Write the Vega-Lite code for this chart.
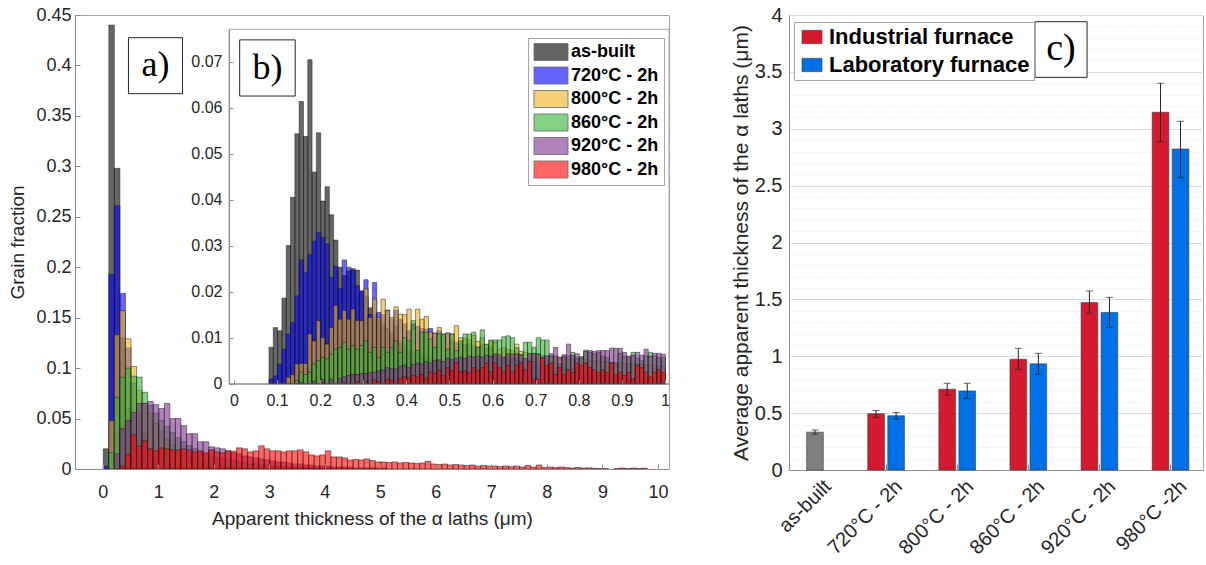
{
 "$schema": "https://vega.github.io/schema/vega-lite/v6.json",
 "background": "white",
 "padding": {"left": 8, "top": 4, "right": 0, "bottom": 0},
 "bounds": "flush",
 "spacing": 120,
 "config": {
  "view": {"stroke": "#a6a6a6"},
  "axis": {"labelFont": "Liberation Sans", "titleFont": "Liberation Sans", "labelColor": "#262626", "titleColor": "#262626", "domainColor": "#8c8c8c", "tickColor": "#8c8c8c", "grid": false, "titleFontWeight": "normal", "labelFlush": false, "labelOverlap": false}
 },
 "datasets": {
  "histA": [
   {"x":0,"a":0.02,"b":0.003},
   {"x":0.1,"a":0.44,"b":0.193,"c":0.048,"d":0.016},
   {"x":0.2,"a":0.298,"b":0.261,"c":0.133,"d":0.071,"e":0.015},
   {"x":0.3,"a":0.13,"b":0.174,"c":0.157,"d":0.091,"e":0.04,"f":0.003},
   {"x":0.4,"a":0.06,"b":0.12,"c":0.129,"d":0.1,"e":0.048,"f":0.0144},
   {"x":0.5,"a":0.025,"b":0.085,"c":0.1016,"d":0.092,"e":0.056,"f":0.034},
   {"x":0.6,"a":0.012,"b":0.055,"c":0.078,"d":0.091,"e":0.065,"f":0.0227},
   {"x":0.7,"a":0.006,"b":0.035,"c":0.065,"d":0.076,"e":0.065,"f":0.028},
   {"x":0.8,"a":0.003,"b":0.02,"c":0.055,"d":0.063,"e":0.067,"f":0.02},
   {"x":0.9,"a":0.002,"b":0.012,"c":0.045,"d":0.055,"e":0.064,"f":0.018},
   {"x":1,"b":0.007,"c":0.037,"d":0.048,"e":0.06,"f":0.021},
   {"x":1.1,"b":0.004,"c":0.03,"d":0.042,"e":0.065,"f":0.02},
   {"x":1.2,"b":0.002,"c":0.024,"d":0.036,"e":0.05,"f":0.019},
   {"x":1.3,"c":0.019,"d":0.031,"e":0.05,"f":0.019},
   {"x":1.4,"c":0.015,"d":0.027,"e":0.043,"f":0.02},
   {"x":1.5,"c":0.012,"d":0.023,"e":0.035,"f":0.019},
   {"x":1.6,"c":0.01,"d":0.02,"e":0.035,"f":0.017},
   {"x":1.7,"c":0.008,"d":0.017,"e":0.027,"f":0.018},
   {"x":1.8,"c":0.006,"d":0.015,"e":0.027,"f":0.016},
   {"x":1.9,"c":0.005,"d":0.013,"e":0.022,"f":0.019},
   {"x":2,"c":0.004,"d":0.011,"e":0.021,"f":0.017},
   {"x":2.1,"c":0.003,"d":0.01,"e":0.02,"f":0.016},
   {"x":2.2,"c":0.002,"d":0.009,"e":0.018,"f":0.018},
   {"x":2.3,"c":0.002,"d":0.008,"e":0.016,"f":0.0177},
   {"x":2.4,"c":0.001,"d":0.007,"e":0.015,"f":0.021},
   {"x":2.5,"d":0.006,"e":0.013,"f":0.02},
   {"x":2.6,"d":0.005,"e":0.012,"f":0.017},
   {"x":2.7,"d":0.005,"e":0.011,"f":0.018},
   {"x":2.8,"d":0.004,"e":0.01,"f":0.023},
   {"x":2.9,"d":0.004,"e":0.009,"f":0.02},
   {"x":3,"d":0.003,"e":0.008,"f":0.018},
   {"x":3.1,"d":0.003,"e":0.007,"f":0.018},
   {"x":3.2,"d":0.003,"e":0.007,"f":0.017},
   {"x":3.3,"d":0.002,"e":0.006,"f":0.018},
   {"x":3.4,"d":0.002,"e":0.005,"f":0.018},
   {"x":3.5,"d":0.002,"e":0.005,"f":0.019},
   {"x":3.6,"d":0.002,"e":0.004,"f":0.017},
   {"x":3.7,"d":0.001,"e":0.004,"f":0.014},
   {"x":3.8,"d":0.001,"e":0.003,"f":0.013},
   {"x":3.9,"d":0.001,"e":0.003,"f":0.014},
   {"x":4,"d":0.001,"e":0.003,"f":0.018},
   {"x":4.1,"e":0.002,"f":0.012},
   {"x":4.2,"e":0.002,"f":0.012},
   {"x":4.3,"e":0.002,"f":0.011},
   {"x":4.4,"e":0.002,"f":0.009},
   {"x":4.5,"e":0.001,"f":0.0095},
   {"x":4.6,"e":0.001,"f":0.009},
   {"x":4.7,"e":0.001,"f":0.01},
   {"x":4.8,"e":0.001,"f":0.0085},
   {"x":4.9,"e":0.001,"f":0.007},
   {"x":5,"e":0.001,"f":0.007},
   {"x":5.1,"f":0.0065},{"x":5.2,"f":0.007},{"x":5.3,"f":0.006},{"x":5.4,"f":0.0065},{"x":5.5,"f":0.006},
   {"x":5.6,"f":0.0055},{"x":5.7,"f":0.006},{"x":5.8,"f":0.0077},{"x":5.9,"f":0.005},{"x":6,"f":0.0045},
   {"x":6.1,"f":0.005},{"x":6.2,"f":0.004},{"x":6.3,"f":0.0045},{"x":6.4,"f":0.004},{"x":6.5,"f":0.0035},
   {"x":6.6,"f":0.004},{"x":6.7,"f":0.003},{"x":6.8,"f":0.0035},{"x":6.9,"f":0.003},{"x":7,"f":0.003},
   {"x":7.1,"f":0.0025},{"x":7.2,"f":0.003},{"x":7.3,"f":0.0025},{"x":7.4,"f":0.003},{"x":7.5,"f":0.002},
   {"x":7.6,"f":0.0035},{"x":7.7,"f":0.002},{"x":7.8,"f":0.004},{"x":7.9,"f":0.0015},{"x":8,"f":0.002},
   {"x":8.1,"f":0.0015},{"x":8.2,"f":0.002},{"x":8.3,"f":0.0015},{"x":8.4,"f":0.001},{"x":8.5,"f":0.0015},
   {"x":8.6,"f":0.001},{"x":8.7,"f":0.0012},{"x":8.8,"f":0.0008},{"x":8.9,"f":0.0005},{"x":9,"f":0.0005},
   {"x":9.2,"f":0.0005},{"x":9.3,"f":0.001},{"x":9.4,"f":0.0005},{"x":9.5,"f":0.001},{"x":9.6,"f":0.0005},{"x":9.7,"f":0.0008}
  ],
  "histB": [
   {"x":0.08,"a":0.0079,"b":0.001},
   {"x":0.09,"a":0.0122,"b":0.0017},
   {"x":0.10,"a":0.0115,"b":0.0043},
   {"x":0.11,"a":0.0186,"b":0.0075},
   {"x":0.12,"a":0.030,"b":0.0108,"c":0.0014},
   {"x":0.13,"a":0.0405,"b":0.0133,"c":0.002},
   {"x":0.14,"a":0.0543,"b":0.0191,"c":0.0043,"d":0.0007},
   {"x":0.15,"a":0.0613,"b":0.0269,"c":0.0044,"d":0.0025,"e":0.0003},
   {"x":0.16,"a":0.0537,"b":0.0242,"c":0.0044,"d":0.002},
   {"x":0.17,"a":0.0704,"b":0.028,"c":0.0108,"d":0.0025},
   {"x":0.18,"a":0.046,"b":0.031,"c":0.0093,"d":0.0043,"e":0.0005},
   {"x":0.19,"a":0.0545,"b":0.0329,"c":0.0137,"d":0.005},
   {"x":0.20,"a":0.0397,"b":0.0318,"c":0.010,"d":0.0057,"e":0.001,"f":0.0003},
   {"x":0.21,"a":0.0428,"b":0.0304,"c":0.0086,"d":0.0054},
   {"x":0.22,"a":0.0367,"b":0.0231,"c":0.0122,"d":0.0064,"e":0.001},
   {"x":0.23,"a":0.0312,"b":0.0255,"c":0.017,"d":0.0075},
   {"x":0.24,"a":0.0253,"b":0.0207,"c":0.014,"d":0.0079,"e":0.0012},
   {"x":0.25,"a":0.0235,"b":0.0269,"c":0.0159,"d":0.009,"e":0.0015,"f":0.0003},
   {"x":0.26,"a":0.0245,"b":0.0253,"c":0.014,"d":0.0075,"e":0.0018},
   {"x":0.27,"a":0.025,"b":0.0246,"c":0.0162,"d":0.0083,"e":0.002},
   {"x":0.28,"a":0.0247,"b":0.0213,"c":0.0137,"d":0.0075,"e":0.002,"f":0.0005},
   {"x":0.29,"a":0.020,"b":0.0202,"c":0.0137,"d":0.0083,"e":0.0022},
   {"x":0.30,"a":0.019,"b":0.0226,"c":0.0206,"d":0.0093,"e":0.0022,"f":0.0005},
   {"x":0.31,"a":0.0165,"b":0.0151,"c":0.0144,"d":0.0068,"e":0.0024},
   {"x":0.32,"a":0.015,"b":0.022,"c":0.0184,"d":0.0079,"e":0.0025,"f":0.0008},
   {"x":0.33,"a":0.014,"b":0.0155,"c":0.0144,"d":0.0057,"e":0.0028,"f":0.0005},
   {"x":0.34,"a":0.013,"b":0.015,"c":0.0184,"d":0.0079,"e":0.003},
   {"x":0.35,"a":0.012,"b":0.016,"c":0.0159,"d":0.0068,"e":0.0035,"f":0.001},
   {"x":0.36,"a":0.011,"b":0.014,"c":0.0144,"d":0.0079,"e":0.0033,"f":0.0008},
   {"x":0.37,"a":0.0125,"b":0.016,"c":0.0167,"d":0.0093,"e":0.0032},
   {"x":0.38,"a":0.009,"b":0.014,"c":0.0151,"d":0.0068,"e":0.0038,"f":0.0012},
   {"x":0.39,"a":0.008,"b":0.013,"c":0.015,"d":0.01,"e":0.004,"f":0.0015},
   {"x":0.40,"a":0.0075,"b":0.0115,"c":0.0162,"d":0.0093,"e":0.0035,"f":0.0012},
   {"x":0.41,"a":0.007,"b":0.013,"c":0.0119,"d":0.0137,"e":0.0042,"f":0.0018},
   {"x":0.42,"a":0.0068,"b":0.0125,"c":0.0162,"d":0.0072,"e":0.0045,"f":0.0015},
   {"x":0.43,"a":0.0065,"b":0.012,"c":0.014,"d":0.0112,"e":0.0043,"f":0.002},
   {"x":0.44,"a":0.006,"b":0.0119,"c":0.0146,"d":0.0112,"e":0.0048,"f":0.0012},
   {"x":0.45,"a":0.0058,"b":0.012,"c":0.0112,"d":0.0097,"e":0.0045,"f":0.0025},
   {"x":0.46,"a":0.0055,"b":0.011,"c":0.011,"d":0.0079,"e":0.005,"f":0.0023},
   {"x":0.47,"a":0.0052,"b":0.0115,"c":0.0122,"d":0.0108,"e":0.0052,"f":0.003},
   {"x":0.48,"a":0.005,"b":0.0105,"c":0.0108,"d":0.0108,"e":0.0048,"f":0.0018},
   {"x":0.49,"a":0.0047,"b":0.011,"c":0.011,"d":0.0075,"e":0.0055,"f":0.0035},
   {"x":0.50,"a":0.0035,"b":0.0095,"c":0.0108,"d":0.0108,"e":0.0052,"f":0.0028},
   {"x":0.51,"a":0.003,"b":0.009,"c":0.0126,"d":0.0072,"e":0.0055,"f":0.0046},
   {"x":0.52,"a":0.003,"b":0.0088,"c":0.010,"d":0.0093,"e":0.0058,"f":0.0026},
   {"x":0.53,"a":0.0028,"b":0.0085,"c":0.0098,"d":0.0108,"e":0.0055,"f":0.0028},
   {"x":0.54,"a":0.0025,"b":0.0087,"c":0.0095,"d":0.0108,"e":0.006,"f":0.0024},
   {"x":0.55,"a":0.0025,"b":0.0083,"c":0.0105,"d":0.0112,"e":0.0058,"f":0.0035},
   {"x":0.56,"a":0.0022,"b":0.008,"c":0.0092,"d":0.0079,"e":0.006,"f":0.0028},
   {"x":0.57,"a":0.002,"b":0.0085,"c":0.01,"d":0.0117,"e":0.0058,"f":0.0035},
   {"x":0.58,"a":0.002,"b":0.0078,"c":0.0085,"d":0.0086,"e":0.0062,"f":0.0045},
   {"x":0.59,"a":0.0018,"b":0.0079,"c":0.0095,"d":0.0093,"e":0.006,"f":0.0025},
   {"x":0.60,"a":0.0015,"b":0.006,"c":0.009,"d":0.0095,"e":0.0065,"f":0.0045},
   {"x":0.61,"a":0.0014,"b":0.0058,"c":0.0075,"d":0.0095,"e":0.0063,"f":0.0035},
   {"x":0.62,"a":0.0013,"b":0.0056,"c":0.0078,"d":0.0102,"e":0.0058,"f":0.0025},
   {"x":0.63,"a":0.0012,"b":0.0055,"c":0.0074,"d":0.0104,"e":0.0065,"f":0.004},
   {"x":0.64,"a":0.0012,"b":0.0055,"c":0.0072,"d":0.01,"e":0.0064,"f":0.0025},
   {"x":0.65,"a":0.0011,"b":0.0054,"c":0.0086,"d":0.0078,"e":0.0065,"f":0.004},
   {"x":0.66,"a":0.001,"b":0.0052,"c":0.007,"d":0.0064,"e":0.0062,"f":0.0045},
   {"x":0.67,"a":0.001,"b":0.005,"c":0.0068,"d":0.009,"e":0.0055,"f":0.003},
   {"x":0.68,"a":0.001,"b":0.0052,"c":0.0066,"d":0.009,"e":0.0065,"f":0.0048},
   {"x":0.69,"a":0.0009,"b":0.0048,"c":0.0065,"d":0.0079,"e":0.0066,"f":0.001},
   {"x":0.70,"a":0.0008,"b":0.004,"c":0.0064,"d":0.01,"e":0.0065,"f":0.001},
   {"x":0.71,"a":0.0008,"b":0.0038,"c":0.0062,"d":0.0095,"e":0.0058,"f":0.0055},
   {"x":0.72,"a":0.0007,"b":0.0036,"c":0.006,"d":0.0095,"e":0.006,"f":0.004},
   {"x":0.73,"a":0.0007,"b":0.0035,"c":0.006,"d":0.006,"e":0.0065,"f":0.0045},
   {"x":0.74,"a":0.0007,"b":0.0036,"c":0.0058,"d":0.006,"e":0.0079,"f":0.002},
   {"x":0.75,"a":0.0006,"b":0.0033,"c":0.0056,"d":0.0043,"e":0.0058,"f":0.0035},
   {"x":0.76,"a":0.0006,"b":0.0034,"c":0.0056,"d":0.006,"e":0.0063,"f":0.002},
   {"x":0.77,"a":0.0006,"b":0.0032,"c":0.0054,"d":0.006,"e":0.0086,"f":0.003},
   {"x":0.78,"a":0.0005,"b":0.0033,"c":0.0055,"d":0.0068,"e":0.0062,"f":0.0025},
   {"x":0.79,"a":0.0005,"b":0.003,"c":0.0053,"d":0.0057,"e":0.0065,"f":0.0045},
   {"x":0.80,"a":0.0005,"b":0.0022,"c":0.0059,"d":0.0058,"e":0.0055,"f":0.004},
   {"x":0.81,"a":0.0004,"b":0.002,"c":0.0052,"d":0.0073,"e":0.007,"f":0.0045},
   {"x":0.82,"a":0.0004,"b":0.0021,"c":0.005,"d":0.0068,"e":0.0072,"f":0.0035},
   {"x":0.83,"a":0.0004,"b":0.002,"c":0.005,"d":0.0065,"e":0.007,"f":0.003},
   {"x":0.84,"a":0.0004,"b":0.0019,"c":0.0049,"d":0.0068,"e":0.0072,"f":0.0025},
   {"x":0.85,"a":0.0003,"b":0.002,"c":0.0048,"d":0.006,"e":0.0072,"f":0.003},
   {"x":0.86,"a":0.0003,"b":0.0018,"c":0.0048,"d":0.0057,"e":0.0072,"f":0.0025},
   {"x":0.87,"a":0.0003,"b":0.0019,"c":0.0046,"d":0.0045,"e":0.0077,"f":0.0045},
   {"x":0.88,"a":0.0003,"b":0.0018,"c":0.0046,"d":0.0043,"e":0.0077,"f":0.002},
   {"x":0.89,"a":0.0003,"b":0.0017,"c":0.0045,"d":0.0066,"e":0.0077,"f":0.0025},
   {"x":0.90,"a":0.0003,"b":0.0013,"c":0.0044,"d":0.006,"e":0.0068,"f":0.0018},
   {"x":0.91,"a":0.0002,"b":0.0012,"c":0.0043,"d":0.0057,"e":0.006,"f":0.0025},
   {"x":0.92,"a":0.0002,"b":0.0012,"c":0.0043,"d":0.0068,"e":0.0062,"f":0.001},
   {"x":0.93,"a":0.0002,"b":0.0011,"c":0.0042,"d":0.0056,"e":0.0068,"f":0.004},
   {"x":0.94,"a":0.0002,"b":0.0012,"c":0.0042,"d":0.005,"e":0.0062,"f":0.0035},
   {"x":0.95,"a":0.0002,"b":0.0011,"c":0.004,"d":0.006,"e":0.0075,"f":0.0025},
   {"x":0.96,"a":0.0002,"b":0.0011,"c":0.0041,"d":0.0068,"e":0.006,"f":0.0015},
   {"x":0.97,"a":0.0002,"b":0.001,"c":0.004,"d":0.006,"e":0.0066,"f":0.0025},
   {"x":0.98,"a":0.0002,"b":0.001,"c":0.0039,"d":0.0057,"e":0.0066,"f":0.003},
   {"x":0.99,"a":0.0002,"b":0.001,"c":0.0038,"d":0.0057,"e":0.0064,"f":0.0025}
  ],
  "bars": [
   {"cat":"as-built","furnace":"as-built","v":0.333,"lo":0.314,"hi":0.352},
   {"cat":"720°C - 2h","furnace":"Industrial furnace","v":0.495,"lo":0.463,"hi":0.523},
   {"cat":"720°C - 2h","furnace":"Laboratory furnace","v":0.477,"lo":0.447,"hi":0.507},
   {"cat":"800°C - 2h","furnace":"Industrial furnace","v":0.71,"lo":0.66,"hi":0.762},
   {"cat":"800°C - 2h","furnace":"Laboratory furnace","v":0.695,"lo":0.628,"hi":0.762},
   {"cat":"860°C - 2h","furnace":"Industrial furnace","v":0.974,"lo":0.885,"hi":1.07},
   {"cat":"860°C - 2h","furnace":"Laboratory furnace","v":0.933,"lo":0.842,"hi":1.026},
   {"cat":"920°C - 2h","furnace":"Industrial furnace","v":1.472,"lo":1.378,"hi":1.574},
   {"cat":"920°C - 2h","furnace":"Laboratory furnace","v":1.384,"lo":1.254,"hi":1.518},
   {"cat":"980°C -2h","furnace":"Industrial furnace","v":3.145,"lo":2.886,"hi":3.40},
   {"cat":"980°C -2h","furnace":"Laboratory furnace","v":2.822,"lo":2.57,"hi":3.066}
  ]
 },
 "resolve": {"scale": {"color": "independent"}, "legend": {"color": "independent"}},
 "hconcat": [
  {
   "width": 594, "height": 454,
   "resolve": {"scale": {"x": "independent", "y": "independent"}, "axis": {"x": "independent", "y": "independent"}},
   "layer": [
    {
     "layer": [
      {
       "data": {"name": "histA"},
       "transform": [{"fold": ["a","b","c","d","e","f"], "as": ["s","v"]}],
       "mark": {"type": "bar", "binSpacing": 0, "fillOpacity": 0.6, "stroke": "#1a1a1a", "strokeWidth": 0.6, "strokeOpacity": 0.8},
       "encoding": {
        "x": {"field": "x", "type": "quantitative", "bin": {"binned": true, "step": 0.1}, "scale": {"domain": [-0.5, 10.2], "nice": false, "zero": false},
              "axis": {"orient": "bottom", "values": [0,1,2,3,4,5,6,7,8,9,10], "format": "d", "title": "Apparent thickness of the α laths (μm)", "labelFontSize": 18, "titleFontSize": 19, "tickSize": -5, "labelPadding": 19, "titlePadding": 8, "zindex": 1}},
        "y": {"field": "v", "type": "quantitative", "stack": null, "scale": {"domain": [0, 0.45], "nice": false},
              "axis": {"orient": "left", "values": [0,0.05,0.1,0.15,0.2,0.25,0.3,0.35,0.4,0.45], "format": "~g", "title": "Grain fraction", "labelFontSize": 18, "titleFontSize": 19, "tickSize": -5, "labelPadding": 9, "titlePadding": 8, "zindex": 1}},
        "color": {"field": "s", "type": "nominal",
                  "scale": {"domain": ["a","b","c","d","e","f"], "range": ["#000000","#0000ff","#edb120","#33b233","#7e2f8e","#ff0000"]},
                  "legend": {"orient": "none", "legendX": 453, "legendY": 23, "title": null,
                             "labelExpr": "{'a':'as-built','b':'720°C - 2h','c':'800°C - 2h','d':'860°C - 2h','e':'920°C - 2h','f':'980°C - 2h'}[datum.value]",
                             "symbolType": "M-2,-1H2V1H-2Z", "symbolSize": 289, "symbolOffset": 9, "labelOffset": 11,
                             "labelFont": "Liberation Sans", "labelFontSize": 18, "labelFontWeight": "bold", "labelColor": "#000000",
                             "rowPadding": 1.5, "padding": 5, "strokeColor": "#a6a6a6", "fillColor": "white",
                             "symbolOpacity": 0.6, "symbolStrokeColor": "#000000", "symbolStrokeWidth": 0.8}}
       }
      },
      {
       "data": {"values": [{}]},
       "mark": {"type": "rect", "fill": "white", "stroke": "#262626", "strokeWidth": 1},
       "encoding": {"x": {"datum": 0.463, "type": "quantitative"}, "x2": {"datum": 1.437}, "y": {"datum": 0.4275, "type": "quantitative"}, "y2": {"datum": 0.372}}
      },
      {
       "data": {"values": [{}]},
       "mark": {"type": "text", "text": "a)", "font": "Liberation Serif", "fontSize": 36, "color": "#000000", "align": "center", "baseline": "middle"},
       "encoding": {"x": {"datum": 0.95, "type": "quantitative"}, "y": {"datum": 0.40, "type": "quantitative"}}
      }
     ]
    },
    {
     "layer": [
      {
       "data": {"values": [{}]},
       "mark": {"type": "rect", "fill": "white", "stroke": "#a6a6a6", "strokeWidth": 1},
       "encoding": {"x": {"datum": -0.0116, "type": "quantitative"}, "x2": {"datum": 1.0093}, "y": {"datum": 0, "type": "quantitative"}, "y2": {"datum": 0.077}}
      },
      {
       "data": {"name": "histB"},
       "transform": [{"fold": ["a","b","c","d","e","f"], "as": ["s","v"]}],
       "mark": {"type": "bar", "binSpacing": 0, "fillOpacity": 0.6, "stroke": "#1a1a1a", "strokeWidth": 0.6, "strokeOpacity": 0.8},
       "encoding": {
        "x": {"field": "x", "type": "quantitative", "bin": {"binned": true, "step": 0.01}, "scale": {"domain": [-0.0116, 1.0093], "range": [154, 594], "nice": false, "zero": false},
              "axis": {"orient": "bottom", "offset": -85.3, "values": [0,0.1,0.2,0.3,0.4,0.5,0.6,0.7,0.8,0.9,1], "format": "~g", "title": null, "labelFontSize": 16, "tickSize": -4, "labelPadding": 13, "zindex": 2}},
        "y": {"field": "v", "type": "quantitative", "stack": null, "scale": {"domain": [0, 0.077], "range": [368.7, 14.3], "nice": false},
              "axis": {"orient": "left", "offset": -154, "values": [0,0.01,0.02,0.03,0.04,0.05,0.06,0.07], "format": "~g", "title": null, "labelFontSize": 16, "tickSize": -4, "labelPadding": 11, "zindex": 2}},
        "color": {"field": "s", "type": "nominal",
                  "scale": {"domain": ["a","b","c","d","e","f"], "range": ["#000000","#0000ff","#edb120","#33b233","#7e2f8e","#ff0000"]},
                  "legend": {"orient": "none", "legendX": 453, "legendY": 23, "title": null,
                             "labelExpr": "{'a':'as-built','b':'720°C - 2h','c':'800°C - 2h','d':'860°C - 2h','e':'920°C - 2h','f':'980°C - 2h'}[datum.value]",
                             "symbolType": "M-2,-1H2V1H-2Z", "symbolSize": 289, "symbolOffset": 9, "labelOffset": 11,
                             "labelFont": "Liberation Sans", "labelFontSize": 18, "labelFontWeight": "bold", "labelColor": "#000000",
                             "rowPadding": 1.5, "padding": 5, "strokeColor": "#a6a6a6", "fillColor": "white",
                             "symbolOpacity": 0.6, "symbolStrokeColor": "#000000", "symbolStrokeWidth": 0.8}}
       }
      },
      {
       "data": {"values": [{}]},
       "mark": {"type": "rect", "fill": "white", "stroke": "#262626", "strokeWidth": 1},
       "encoding": {"x": {"datum": 0.0132, "type": "quantitative"}, "x2": {"datum": 0.142}, "y": {"datum": 0.0747, "type": "quantitative"}, "y2": {"datum": 0.0625}}
      },
      {
       "data": {"values": [{}]},
       "mark": {"type": "text", "text": "b)", "font": "Liberation Serif", "fontSize": 36, "color": "#000000", "align": "center", "baseline": "middle"},
       "encoding": {"x": {"datum": 0.0776, "type": "quantitative"}, "y": {"datum": 0.0686, "type": "quantitative"}}
      }
     ]
    }
   ]
  },
  {
   "width": 414, "height": 455,
   "resolve": {"scale": {"x": "independent"}, "axis": {"x": "independent", "y": "independent"}},
   "layer": [
    {
     "data": {"name": "bars"},
     "layer": [
      {
       "mark": {"type": "bar", "width": 16.7, "stroke": "#3c3c3c", "strokeWidth": 0.6},
       "encoding": {
        "x": {"field": "cat", "type": "nominal", "scale": {"domain": ["as-built","720°C - 2h","800°C - 2h","860°C - 2h","920°C - 2h","980°C -2h"], "paddingInner": 0.578, "paddingOuter": 0.2, "align": 0.386},
              "axis": {"title": null, "labelAngle": -45, "labelFontSize": 20, "ticks": true, "tickSize": -6, "labelPadding": 12, "labelOffset": 6}},
        "xOffset": {"field": "furnace", "type": "nominal", "scale": {"domain": ["Industrial furnace","as-built","Laboratory furnace"], "paddingInner": 0, "paddingOuter": 0}},
        "y": {"field": "v", "type": "quantitative", "scale": {"domain": [0, 4], "nice": false}, "title": "Average apparent thickness of the α laths (μm)",
              "axis": {"orient": "left", "values": [0,0.5,1,1.5,2,2.5,3,3.5,4], "format": "~g",
                       "grid": true, "gridColor": "#dcdcdc",
                       "ticks": false, "titleFontSize": 21, "labelFontSize": 20, "labelPadding": 7, "titlePadding": 3}},
        "color": {"field": "furnace", "type": "nominal", "scale": {"domain": ["Industrial furnace","Laboratory furnace","as-built"], "range": ["#d51a30","#0070e6","#808080"]},
                  "legend": {"values": ["Industrial furnace","Laboratory furnace"], "orient": "none", "legendX": 5, "legendY": 7, "title": null,
                             "symbolType": "M-1.5,-1H1.5V1H-1.5Z", "symbolSize": 178, "symbolOffset": 3, "labelOffset": 6,
                             "labelFont": "Liberation Sans", "labelFontSize": 22, "labelFontWeight": "bold", "labelColor": "#000000", "labelLimit": 400,
                             "rowPadding": 6, "padding": 4, "strokeColor": "#a6a6a6", "fillColor": "white",
                             "symbolStrokeColor": "#3c3c3c", "symbolStrokeWidth": 0.6}}
       }
      },
      {
       "mark": {"type": "rule", "color": "#262626", "strokeWidth": 1},
       "encoding": {"x": {"field": "cat", "type": "nominal"}, "xOffset": {"field": "furnace", "type": "nominal"},
                    "y": {"field": "lo", "type": "quantitative", "title": "Average apparent thickness of the α laths (μm)"}, "y2": {"field": "hi"}}
      },
      {
       "mark": {"type": "tick", "color": "#262626", "thickness": 1, "size": 7, "orient": "horizontal"},
       "encoding": {"x": {"field": "cat", "type": "nominal"}, "xOffset": {"field": "furnace", "type": "nominal"},
                    "y": {"field": "hi", "type": "quantitative", "title": "Average apparent thickness of the α laths (μm)"}}
      },
      {
       "mark": {"type": "tick", "color": "#262626", "thickness": 1, "size": 7, "orient": "horizontal"},
       "encoding": {"x": {"field": "cat", "type": "nominal"}, "xOffset": {"field": "furnace", "type": "nominal"},
                    "y": {"field": "lo", "type": "quantitative", "title": "Average apparent thickness of the α laths (μm)"}}
      }
     ]
    },
    {
     "data": {"values": [{}]},
     "layer": [
      {
       "mark": {"type": "rect", "fill": "white", "stroke": "#262626", "strokeWidth": 1},
       "encoding": {"x": {"datum": 0.594, "type": "quantitative", "scale": {"domain": [0, 1]}, "axis": null}, "x2": {"datum": 0.72},
                    "y": {"datum": 3.941, "type": "quantitative",
                          "axis": {"orient": "left", "values": [0.1,0.2,0.3,0.4,0.6,0.7,0.8,0.9,1.1,1.2,1.3,1.4,1.6,1.7,1.8,1.9,2.1,2.2,2.3,2.4,2.6,2.7,2.8,2.9,3.1,3.2,3.3,3.4,3.6,3.7,3.8,3.9],
                                   "grid": true, "gridColor": "#e2e2e2", "gridDash": [1, 2], "labels": false, "ticks": false, "domain": false, "title": null}},
                    "y2": {"datum": 3.452}}
      },
      {
       "mark": {"type": "text", "text": "c)", "font": "Liberation Serif", "fontSize": 38, "color": "#000000", "align": "center", "baseline": "middle"},
       "encoding": {"x": {"datum": 0.657, "type": "quantitative", "axis": null},
                    "y": {"datum": 3.70, "type": "quantitative",
                          "axis": {"orient": "left", "values": [0.1,0.2,0.3,0.4,0.6,0.7,0.8,0.9,1.1,1.2,1.3,1.4,1.6,1.7,1.8,1.9,2.1,2.2,2.3,2.4,2.6,2.7,2.8,2.9,3.1,3.2,3.3,3.4,3.6,3.7,3.8,3.9],
                                   "grid": true, "gridColor": "#e2e2e2", "gridDash": [1, 2], "labels": false, "ticks": false, "domain": false, "title": null}}}
      }
     ]
    }
   ]
  }
 ]
}
